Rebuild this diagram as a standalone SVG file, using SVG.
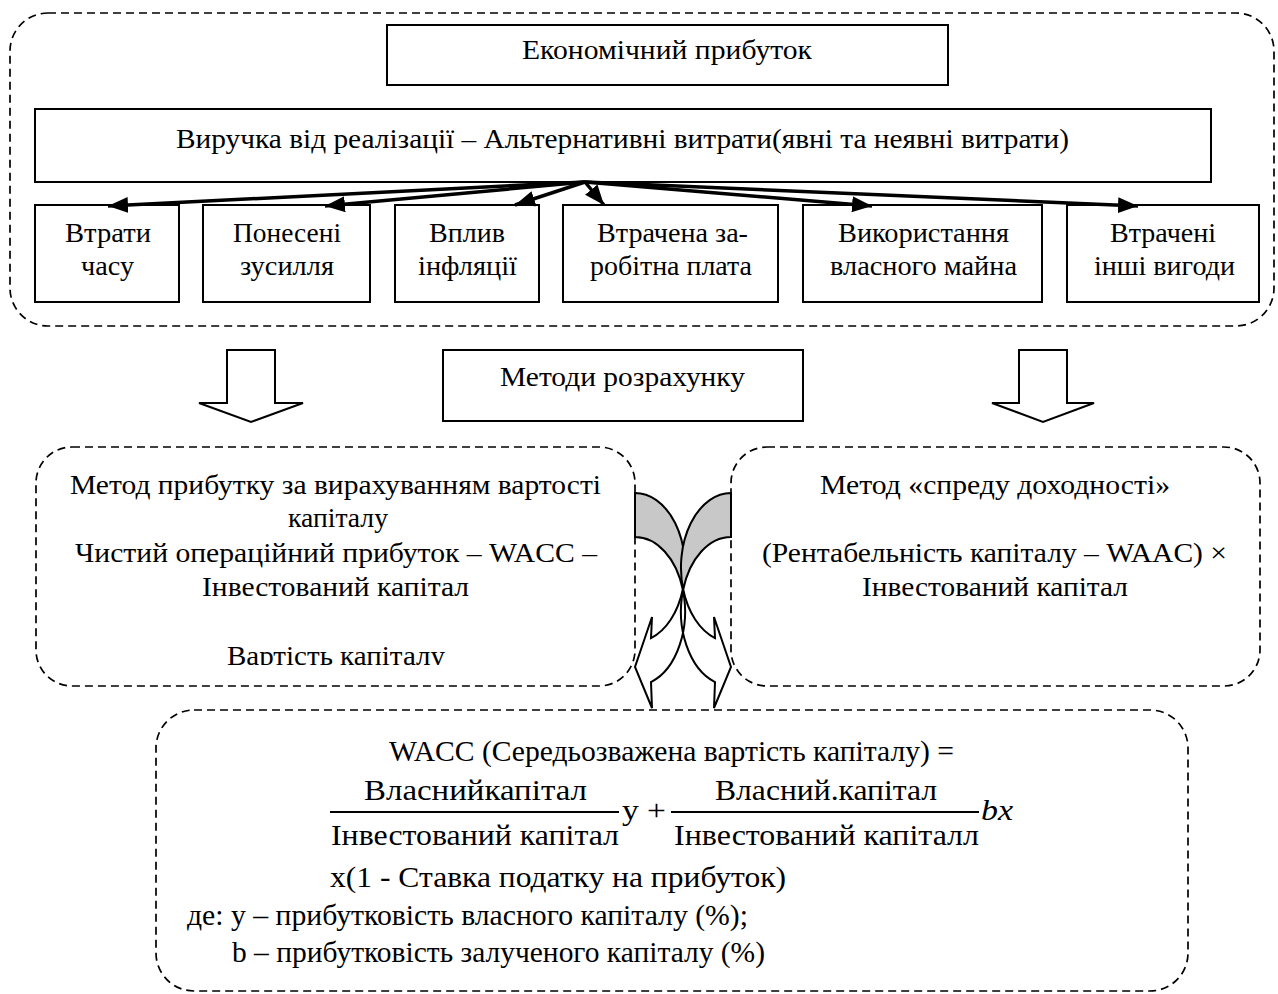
<svg xmlns="http://www.w3.org/2000/svg" width="1278" height="994" viewBox="0 0 1278 994">
<style>
.bg{fill:#fff}
.box{fill:#fff;stroke:#000;stroke-width:2}
.dash{fill:none;stroke:#000;stroke-width:1.7;stroke-dasharray:8 5}
.t{font-family:"Liberation Serif","Times New Roman",serif;font-size:27px;fill:#000}
.f{font-family:"Liberation Serif","Times New Roman",serif;font-size:29px;fill:#000}
.conn{stroke:#000;stroke-width:3.5;fill:none}
.hollow{fill:#fff;stroke:#000;stroke-width:2;stroke-linejoin:miter}
.back{fill:#c8c8c8;stroke:#000;stroke-width:2}
.front{fill:none;stroke:#000;stroke-width:2}
</style>
<defs>
<marker id="ah" markerUnits="userSpaceOnUse" markerWidth="22" markerHeight="16" refX="20" refY="8" orient="auto">
<path d="M0,0 L20,8 L0,16 Z" fill="#000"/>
</marker>
<clipPath id="clipL"><rect x="36" y="448" width="598" height="217"/></clipPath>
</defs>
<rect class="bg" x="0" y="0" width="1278" height="994"/>

<g id="container-top">
<rect class="dash" x="10" y="13" width="1264" height="313" rx="38" ry="38"/>
</g>

<g id="node-econ-profit">
<rect class="box" x="387" y="25" width="561" height="60"/>
<text class="t" x="522" y="59" textLength="290" lengthAdjust="spacingAndGlyphs">Економічний прибуток</text>
</g>

<g id="node-revenue">
<rect class="box" x="35" y="109" width="1176" height="73"/>
<text class="t" x="176" y="148" textLength="893" lengthAdjust="spacingAndGlyphs">Виручка від реалізації – Альтернативні витрати(явні та неявні витрати)</text>
</g>

<g id="node-time">
<rect class="box" x="35" y="205" width="144" height="97"/>
<text class="t" x="65" y="242" textLength="86" lengthAdjust="spacingAndGlyphs">Втрати</text>
<text class="t" x="81" y="275" textLength="53" lengthAdjust="spacingAndGlyphs">часу</text>
</g>

<g id="node-effort">
<rect class="box" x="203" y="205" width="167" height="97"/>
<text class="t" x="233" y="242" textLength="108" lengthAdjust="spacingAndGlyphs">Понесені</text>
<text class="t" x="240" y="275" textLength="94" lengthAdjust="spacingAndGlyphs">зусилля</text>
</g>

<g id="node-inflation">
<rect class="box" x="395" y="205" width="144" height="97"/>
<text class="t" x="429" y="242" textLength="76" lengthAdjust="spacingAndGlyphs">Вплив</text>
<text class="t" x="418" y="275" textLength="99" lengthAdjust="spacingAndGlyphs">інфляції</text>
</g>

<g id="node-wages">
<rect class="box" x="563" y="205" width="215" height="97"/>
<text class="t" x="597" y="242" textLength="151" lengthAdjust="spacingAndGlyphs">Втрачена за-</text>
<text class="t" x="590" y="275" textLength="162" lengthAdjust="spacingAndGlyphs">робітна плата</text>
</g>

<g id="node-property">
<rect class="box" x="803" y="205" width="239" height="97"/>
<text class="t" x="838" y="242" textLength="171" lengthAdjust="spacingAndGlyphs">Використання</text>
<text class="t" x="830" y="275" textLength="187" lengthAdjust="spacingAndGlyphs">власного майна</text>
</g>

<g id="node-other">
<rect class="box" x="1067" y="205" width="192" height="97"/>
<text class="t" x="1110" y="242" textLength="106" lengthAdjust="spacingAndGlyphs">Втрачені</text>
<text class="t" x="1094" y="275" textLength="141" lengthAdjust="spacingAndGlyphs">інші вигоди</text>
</g>

<g id="connectors">
<line class="conn" x1="585" y1="182" x2="108" y2="206" marker-end="url(#ah)"/>
<line class="conn" x1="585" y1="182" x2="325" y2="206" marker-end="url(#ah)"/>
<line class="conn" x1="585" y1="182" x2="515" y2="205" marker-end="url(#ah)"/>
<line class="conn" x1="585" y1="182" x2="604" y2="205" marker-end="url(#ah)"/>
<line class="conn" x1="585" y1="182" x2="872" y2="206" marker-end="url(#ah)"/>
<line class="conn" x1="585" y1="182" x2="1138" y2="206" marker-end="url(#ah)"/>
<path class="hollow" d="M227,350 H275 V403 H303 L251,422 L199,403 H227 Z"/>
<path class="hollow" d="M1019,350 H1067 V403 H1094 L1043,422 L992,403 H1019 Z"/>
</g>

<g id="node-methods">
<rect class="box" x="443" y="350" width="360" height="71"/>
<text class="t" x="500" y="386" textLength="245" lengthAdjust="spacingAndGlyphs">Методи розрахунку</text>
</g>

<g id="node-method-left">
<rect class="dash" x="36" y="447" width="599" height="239" rx="36" ry="36"/>
<text class="t" x="70" y="494" textLength="531" lengthAdjust="spacingAndGlyphs">Метод прибутку за вирахуванням вартості</text>
<text class="t" x="288" y="527" textLength="100" lengthAdjust="spacingAndGlyphs">капіталу</text>
<text class="t" x="75" y="562" textLength="522" lengthAdjust="spacingAndGlyphs">Чистий операційний прибуток – WACC –</text>
<text class="t" x="202" y="596" textLength="267" lengthAdjust="spacingAndGlyphs">Інвестований капітал</text>
<text class="t" x="227" y="665" textLength="218" lengthAdjust="spacingAndGlyphs" clip-path="url(#clipL)">Вартість капіталу</text>
</g>

<g id="node-method-right">
<rect class="dash" x="731" y="447" width="529" height="239" rx="36" ry="36"/>
<text class="t" x="820" y="494" textLength="350" lengthAdjust="spacingAndGlyphs">Метод «спреду доходності»</text>
<text class="t" x="762" y="562" textLength="465" lengthAdjust="spacingAndGlyphs">(Рентабельність капіталу – WAAC) ×</text>
<text class="t" x="862" y="596" textLength="266" lengthAdjust="spacingAndGlyphs">Інвестований капітал</text>
</g>

<g id="node-wacc">
<rect class="dash" x="156" y="710" width="1032" height="281" rx="38" ry="38"/>
<text class="f" x="389" y="761" textLength="565" lengthAdjust="spacingAndGlyphs">WACC (Середьозважена вартість капіталу) =</text>
<text class="f" x="364" y="800" textLength="223" lengthAdjust="spacingAndGlyphs">Власнийкапітал</text>
<line x1="330" y1="812" x2="619" y2="812" stroke="#000" stroke-width="2"/>
<text class="f" x="331" y="845" textLength="288" lengthAdjust="spacingAndGlyphs">Інвестований капітал</text>
<text class="f" x="622" y="820" textLength="44" lengthAdjust="spacingAndGlyphs">y +</text>
<text class="f" x="715" y="800" textLength="222" lengthAdjust="spacingAndGlyphs">Власний.капітал</text>
<line x1="671" y1="812" x2="979" y2="812" stroke="#000" stroke-width="2"/>
<text class="f" x="674" y="845" textLength="305" lengthAdjust="spacingAndGlyphs">Інвестований капіталл</text>
<text class="f" x="981" y="820" font-style="italic" textLength="32" lengthAdjust="spacingAndGlyphs">bx</text>
<text class="f" x="330" y="887" textLength="456" lengthAdjust="spacingAndGlyphs">x(1 - Ставка податку на прибуток)</text>
<text class="f" x="187" y="925" textLength="561" lengthAdjust="spacingAndGlyphs">де: y – прибутковість власного капіталу (%);</text>
<text class="f" x="232" y="962" textLength="533" lengthAdjust="spacingAndGlyphs">b – прибутковість залученого капіталу (%)</text>
</g>

<g id="curved-arrows">
<g id="curved-left">
<path class="back" d="M635,493 A50,74.5 0 0 1 682.8,589.5 A50,74.5 0 0 0 635,537 Z"/>
<path class="front" d="M682.8,589.5 A50,74.5 0 0 1 651,682.1 L652,708 L635,667 L652,617 L651,638.1 A50,74.5 0 0 0 682.8,589.5 Z"/>
</g>
<g id="curved-right" transform="translate(1366,0) scale(-1,1)">
<path class="back" d="M635,493 A50,74.5 0 0 1 682.8,589.5 A50,74.5 0 0 0 635,537 Z"/>
<path class="front" d="M682.8,589.5 A50,74.5 0 0 1 651,682.1 L652,708 L635,667 L652,617 L651,638.1 A50,74.5 0 0 0 682.8,589.5 Z"/>
</g>
</g>
</svg>
